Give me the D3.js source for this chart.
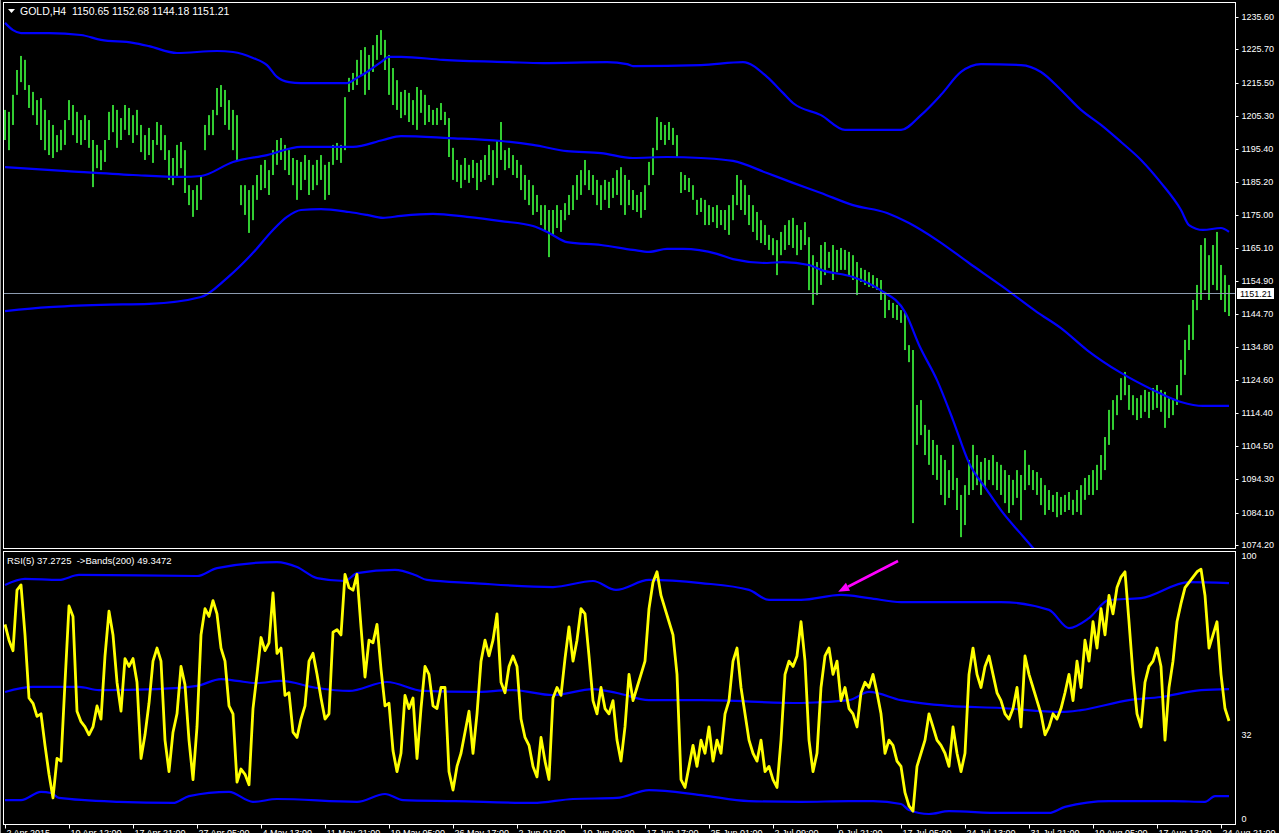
<!DOCTYPE html>
<html><head><meta charset="utf-8">
<script src="https://cdn.jsdelivr.net/npm/d3@7"></script>
<style>html,body{margin:0;padding:0;background:#000;overflow:hidden}</style>
</head><body>
<svg id="c" width="1279" height="833"></svg>
<script>
// ---------------- DATA ----------------
const symbolHeader = "GOLD,H4  1150.65 1152.68 1144.18 1151.21";
const rsiHeader = "RSI(5) 37.2725  ->Bands(200) 49.3472";
const lastPrice = 1151.21;
const priceTicks = [1235.60,1225.70,1215.50,1205.30,1195.40,1185.20,1175.00,1165.10,1154.90,1144.70,1134.80,1124.60,1114.40,1104.50,1094.30,1084.10,1074.20];
const rsiTicks = [100, 32, 0];
const timeLabels = ["2 Apr 2015","10 Apr 12:00","17 Apr 21:00","27 Apr 05:00","4 May 13:00","11 May 21:00","19 May 05:00","26 May 17:00","2 Jun 01:00","10 Jun 09:00","17 Jun 17:00","25 Jun 01:00","2 Jul 09:00","9 Jul 21:00","17 Jul 05:00","24 Jul 13:00","31 Jul 21:00","10 Aug 05:00","17 Aug 13:00","24 Aug 21:00"];
const timeLabelBar = [0,16,32,48,64,80,96,112,128,144,160,176,192,208,224,240,256,272,288,304];

const barHigh = [
1207.2,1206.6,1211.8,1219.4,1223.7,1222.5,1214.8,1212.7,1210.2,1210.8,
1207.2,1204.1,1202.6,1199.5,1201.1,1204.1,1210.2,1208.7,1206.6,1204.1,
1205.6,1204.1,1198.0,1196.5,1194.9,1198.0,1206.6,1208.7,1207.2,1204.7,
1208.7,1207.8,1205.6,1207.2,1202.6,1199.5,1201.7,1198.0,1203.5,1202.6,
1199.5,1194.9,1192.5,1196.5,1197.4,1194.9,1184.2,1182.7,1184.2,1187.3,
1202.6,1205.6,1207.2,1213.9,1214.8,1213.3,1210.2,1207.2,1205.6,1184.2,
1184.2,1182.7,1184.2,1187.3,1190.4,1191.9,1188.8,1194.9,1198.0,1198.6,
1196.5,1194.9,1192.5,1191.9,1191.3,1193.4,1191.9,1190.4,1191.9,1193.4,
1190.4,1191.3,1196.5,1197.1,1196.5,1211.1,1217.0,1218.5,1222.5,1225.5,
1226.4,1224.0,1227.0,1230.1,1231.6,1228.6,1224.0,1220.0,1216.3,1212.7,
1213.3,1212.4,1210.2,1214.2,1213.3,1211.8,1208.7,1207.2,1207.8,1209.3,
1206.6,1204.7,1195.6,1191.9,1190.4,1192.5,1190.4,1191.9,1191.0,1191.9,
1193.4,1196.5,1194.9,1198.0,1203.5,1194.9,1195.6,1193.4,1191.9,1190.4,
1187.3,1185.8,1184.2,1181.2,1178.1,1178.1,1176.6,1176.6,1178.1,1176.6,
1178.7,1181.2,1184.2,1187.3,1188.8,1191.9,1188.8,1187.3,1185.8,1184.2,
1185.8,1185.2,1186.4,1188.8,1189.7,1187.3,1185.8,1182.7,1181.2,1182.1,
1184.2,1191.3,1195.6,1205.0,1203.5,1202.6,1203.5,1201.7,1199.5,1188.2,
1187.3,1186.4,1184.2,1179.7,1180.3,1179.7,1178.1,1177.5,1178.1,1176.6,
1176.6,1178.1,1181.2,1187.3,1185.8,1184.2,1181.2,1178.1,1176.0,1173.5,
1172.0,1169.0,1168.0,1167.4,1169.9,1172.0,1173.5,1174.2,1172.0,1170.5,
1172.9,1168.3,1162.8,1160.7,1165.9,1166.8,1163.8,1165.9,1164.4,1165.0,
1164.4,1163.8,1162.8,1160.7,1158.9,1158.3,1157.6,1156.7,1155.8,1155.2,
1151.5,1149.1,1148.2,1147.6,1146.0,1145.4,1135.3,1133.8,1117.0,1118.5,
1110.9,1109.4,1106.3,1104.8,1101.7,1100.2,1097.1,1104.8,1094.7,1089.5,
1092.5,1100.2,1104.8,1101.7,1099.6,1100.8,1100.2,1101.7,1099.6,1098.7,
1097.1,1095.6,1094.1,1097.1,1095.6,1103.2,1098.7,1097.1,1096.5,1094.7,
1092.5,1091.0,1089.5,1090.4,1088.9,1089.5,1090.4,1088.0,1091.0,1092.5,
1094.7,1095.6,1097.1,1098.7,1101.7,1107.2,1115.5,1118.5,1120.0,1125.2,
1127.1,1123.1,1120.0,1119.1,1120.0,1121.6,1121.0,1122.2,1123.1,1121.6,
1121.0,1119.1,1118.5,1123.1,1130.8,1136.9,1141.5,1149.1,1153.7,1165.9,
1168.0,1162.8,1165.9,1169.9,1159.8,1156.7,1153.7];

const barLow = [
1198.0,1194.9,1202.6,1211.8,1215.7,1213.3,1207.8,1205.6,1202.6,1198.0,
1194.9,1193.4,1192.5,1194.3,1194.9,1196.5,1204.1,1199.5,1197.1,1196.5,
1198.0,1195.6,1183.6,1189.4,1188.8,1191.3,1198.0,1200.4,1195.6,1198.0,
1201.1,1199.5,1197.1,1199.5,1194.3,1191.9,1193.4,1191.0,1196.5,1194.9,
1191.9,1185.8,1184.2,1186.7,1189.4,1181.8,1178.1,1174.5,1176.6,1179.7,
1194.9,1199.5,1199.5,1205.6,1208.1,1202.6,1201.1,1194.9,1191.9,1178.1,
1175.1,1169.6,1173.5,1179.7,1182.7,1183.3,1181.2,1187.3,1190.4,1191.9,
1188.8,1187.3,1184.2,1179.7,1182.7,1185.8,1181.2,1182.7,1184.2,1185.8,
1179.7,1181.2,1190.4,1191.9,1191.0,1194.9,1212.7,1213.3,1214.8,1217.9,
1211.8,1213.3,1218.8,1222.5,1224.0,1219.4,1211.8,1208.7,1207.2,1204.7,
1205.6,1203.5,1202.6,1201.1,1206.3,1202.6,1203.5,1202.6,1202.6,1204.1,
1202.6,1192.8,1185.8,1185.2,1183.3,1185.8,1184.9,1186.4,1182.7,1185.2,
1185.8,1187.3,1184.2,1186.4,1191.9,1188.8,1189.4,1187.3,1186.4,1182.7,
1179.7,1178.1,1175.1,1176.0,1172.0,1170.5,1162.2,1169.0,1171.1,1169.9,
1173.5,1175.1,1176.6,1179.7,1181.2,1184.2,1182.7,1181.2,1178.1,1176.6,
1179.7,1177.2,1180.3,1181.2,1178.1,1175.1,1178.1,1176.6,1176.0,1174.2,
1176.6,1184.2,1187.3,1194.9,1198.0,1196.5,1198.0,1196.5,1192.8,1181.8,
1182.7,1182.1,1179.7,1175.1,1176.0,1172.0,1172.0,1172.9,1171.1,1172.0,
1170.5,1169.0,1173.5,1178.1,1176.6,1175.1,1172.0,1169.9,1167.4,1166.5,
1165.9,1164.4,1162.8,1156.7,1162.8,1164.4,1165.9,1165.0,1162.8,1164.4,
1165.9,1152.1,1147.6,1150.6,1153.7,1156.7,1158.9,1155.2,1157.6,1158.3,
1158.3,1156.7,1155.2,1150.6,1154.6,1153.7,1153.1,1152.8,1152.2,1149.1,
1143.6,1146.0,1143.6,1143.0,1142.1,1133.8,1130.1,1080.9,1104.8,1107.8,
1101.7,1098.7,1095.6,1094.1,1089.5,1086.4,1088.6,1091.0,1084.9,1076.6,
1080.3,1089.5,1091.0,1092.5,1089.5,1091.6,1094.1,1092.5,1091.0,1089.5,
1087.0,1084.0,1086.4,1088.6,1081.8,1091.0,1092.5,1091.0,1089.5,1086.4,
1083.4,1084.9,1084.3,1082.7,1083.4,1084.3,1084.9,1083.4,1084.3,1083.4,
1088.0,1089.5,1089.5,1091.0,1094.1,1097.1,1104.8,1109.4,1113.9,1118.5,
1120.0,1115.5,1113.9,1112.4,1113.0,1114.9,1113.0,1115.5,1116.1,1114.9,
1110.0,1113.0,1113.9,1117.0,1120.0,1126.2,1133.8,1136.9,1146.0,1149.1,
1152.1,1149.1,1153.7,1152.1,1149.1,1145.4,1144.2];

const rsiValues = [
74,68,64,87,89,70,46,44,39,40,
28,17,8,23,22,52,81,77,41,37,
35,32,35,43,38,62,79,70,52,41,
61,58,61,52,23,32,44,60,65,60,
30,18,33,40,58,51,30,15,35,70,
80,77,83,78,65,60,43,40,14,19,
17,13,42,55,69,64,67,86,63,65,
47,48,33,31,38,43,60,63,55,46,
38,40,71,72,70,93,88,87,93,73,
54,68,67,74,57,43,44,26,18,25,
47,42,46,23,42,58,55,43,42,50,
50,18,11,20,25,33,41,25,40,60,
68,62,68,78,52,48,58,62,58,38,
31,28,20,16,31,22,15,46,50,47,
61,73,60,68,80,78,62,45,40,50,
42,40,45,30,22,35,55,45,50,55,
60,80,90,94,85,80,75,70,55,15,
12,20,28,20,30,25,35,22,30,25,
40,45,60,65,50,40,30,25,22,30,
18,20,15,12,30,55,60,58,62,75,
60,30,18,25,50,62,65,55,60,45,
50,42,40,35,48,52,50,55,48,40,
25,30,28,22,20,10,5,3,20,25,
30,40,35,30,28,25,20,35,25,18,
25,55,65,55,50,58,62,55,48,45,
40,38,42,50,35,62,55,50,45,40,
32,35,40,38,42,48,55,45,60,50,
68,60,75,65,80,70,85,78,88,92,
94,75,55,40,35,52,58,60,65,58,
30,50,60,75,82,88,90,92,94,95,
85,65,70,75,55,42,37.27];

// Bollinger bands on price: [bar index, price]
const bbUpper = [[0,1233.8],[2,1231.6],[4,1230.7],[11,1230.7],[19,1230.1],[24,1228.6],[32,1227.7],[36,1226.7],[43,1224.6],[53,1225.2],[57,1224.9],[62,1223.1],[65.5,1220.9],[68,1217.3],[71,1215.7],[74,1215.4],[85.5,1215.4],[88,1217.0],[90.5,1218.8],[94,1221.8],[96,1223.4],[99,1223.4],[109.5,1222.5],[126,1221.8],[134.5,1221.5],[150.5,1221.8],[155.5,1221.2],[157,1220.6],[174,1220.9],[184.5,1221.8],[190.5,1217.3],[194.5,1212.4],[197,1209.3],[204,1205.6],[210,1201.1],[224,1201.1],[229,1205.6],[234,1211.8],[239,1218.8],[244,1221.2],[254,1220.9],[259,1218.8],[264,1213.3],[269,1207.2],[274,1202.6],[279,1197.4],[284,1191.9],[289,1184.9],[294,1176.6],[296,1172.0],[299.5,1170.5],[304,1171.1],[306,1169.9]];
const bbMiddle = [[0,1189.7],[15.5,1188.5],[32,1187.3],[44,1186.7],[49,1187.0],[57,1191.3],[65.5,1193.4],[74,1195.9],[87,1195.9],[94.5,1198.0],[99,1199.2],[111,1198.6],[124,1197.7],[132,1196.5],[140.5,1194.6],[149,1194.0],[157,1192.5],[165.5,1192.8],[174,1192.5],[182,1191.6],[190.5,1187.9],[197,1184.9],[204,1181.8],[212,1178.1],[220.5,1175.7],[226,1172.6],[233,1167.4],[241,1160.4],[249.5,1153.1],[258,1145.4],[264,1140.5],[270.5,1133.8],[279,1126.8],[287,1121.6],[294,1117.9],[299.5,1116.7],[306,1116.7]];
const bbLower = [[0,1145.7],[11,1146.9],[24,1147.6],[36,1147.9],[49,1150.0],[55.5,1155.8],[62,1163.5],[67,1170.5],[70.5,1174.5],[74,1176.6],[79,1176.9],[86,1176.0],[90.5,1175.1],[94.5,1174.2],[99,1174.8],[107,1175.4],[115.5,1174.5],[124,1173.2],[132,1171.7],[136,1169.6],[140.5,1166.8],[149,1165.9],[157,1164.4],[161,1163.8],[165.5,1164.7],[169.5,1164.7],[178,1163.2],[182,1161.6],[190.5,1160.4],[194.5,1160.7],[201,1159.8],[204,1158.3],[212,1156.1],[218.75,1152.2],[225,1145.4],[228.75,1134.7],[233,1124.6],[237,1112.4],[241,1099.3],[245.5,1091.0],[249.5,1084.0],[253.75,1077.9],[257,1073.3],[261,1068.0],[269,1061.0],[280,1058.5],[294,1060.0],[306,1063.5]];

// Bands on RSI: [bar index, value]
const rsiUpper = [[0,89.0],[5,91.3],[13.5,90.9],[18.5,92.8],[48,92.4],[53,95.4],[68,97.7],[73,95.8],[78,91.6],[85,90.5],[88,93.5],[97.5,94.7],[102.5,92.8],[105.5,90.9],[117,89.7],[137,88.2],[147,90.5],[152.75,87.1],[161,90.9],[174,89.7],[186,87.1],[191,83.3],[199,83.3],[209,85.2],[216,84.0],[224,82.5],[249,82.5],[261,79.5],[266,72.6],[271,76.4],[276,83.3],[284,84.0],[296,90.1],[306,89.7]];
const rsiMiddle = [[0,48.3],[7,50.2],[18.5,50.2],[23.5,49.0],[38,49.4],[48,50.6],[54,53.2],[58,52.5],[63,51.7],[69,52.5],[78,49.8],[86,48.7],[95.5,52.1],[104.5,48.7],[117,48.3],[127,49.0],[137,47.1],[147,49.4],[153,47.9],[161,45.2],[174,45.2],[199,44.1],[211,45.2],[216,48.3],[224,45.2],[236,43.0],[249,42.2],[264,40.7],[269,41.4],[281,45.2],[289,46.4],[299,49.0],[306,49.35]];
const rsiLower = [[0,7.2],[4,7.2],[9,10.3],[11.5,9.9],[13.5,8.0],[28.5,6.5],[42,6.1],[46,8.7],[56,10.3],[62,6.5],[68,7.6],[88,6.5],[95,9.5],[99.5,7.2],[112.5,6.8],[132,6.1],[142,7.6],[153,8.0],[161,11.0],[174,9.1],[186,6.8],[199,6.5],[211,6.8],[217,6.8],[224,5.7],[226,3.4],[231,1.9],[236,3.0],[249,2.3],[261,2.3],[265,4.6],[276,6.8],[292,6.8],[300,6.5],[302.5,8.7],[306,8.7]];

// annotation arrow in data units (bar index, RSI value): tail, head
const arrowPts = [[223.25,98.1],[208.3,86.4]];

// ---------------- DRAW ----------------
const svg = d3.select('#c');
const FONT = "'Liberation Sans', Arial, sans-serif";
const frameL = 3.5, frameR = 1235.5, mainT = 2.5, mainB = 548.5, rsiT = 551.5, rsiB = 824.5;
const n = Math.min(barHigh.length, barLow.length);
const x = d3.scaleLinear().domain([0, 306]).range([5, 1229]);
const y = d3.scaleLinear().domain([1074.2, 1235.6]).range([545, 17]);
const yr = d3.scaleLinear().domain([0, 100]).range([819, 556]);

svg.append('rect').attr('width',1279).attr('height',833).attr('fill','#000');

const defs = svg.append('defs');
defs.append('clipPath').attr('id','clipMain').append('rect')
  .attr('x',frameL+0.5).attr('y',mainT+0.5).attr('width',frameR-frameL-1).attr('height',mainB-mainT-1);
defs.append('clipPath').attr('id','clipRsi').append('rect')
  .attr('x',frameL+0.5).attr('y',rsiT+0.5).attr('width',frameR-frameL-1).attr('height',rsiB-rsiT-1);

// left window edge
svg.append('line').attr('x1',0.5).attr('x2',0.5).attr('y1',0).attr('y2',833).attr('stroke','#9a9a9a');

const gMain = svg.append('g').attr('clip-path','url(#clipMain)');
const gRsi = svg.append('g').attr('clip-path','url(#clipRsi)');

// price bars
gMain.append('g').selectAll('rect').data(d3.range(n)).join('rect')
  .attr('x', i => Math.round(x(i)) - 1)
  .attr('width', 2)
  .attr('y', i => y(barHigh[i]))
  .attr('height', i => Math.max(1, y(barLow[i]) - y(barHigh[i])))
  .attr('fill', '#32cd32');

// bands
const bandLine = d3.line().x(d => x(d[0])).y(d => y(d[1])).curve(d3.curveMonotoneX);
[bbUpper, bbMiddle, bbLower].forEach(b => {
  gMain.append('path').attr('d', bandLine(b)).attr('fill','none')
    .attr('stroke','#0000ff').attr('stroke-width',2.2);
});

// last price line
gMain.append('line').attr('x1',frameL).attr('x2',frameR)
  .attr('y1', Math.round(y(lastPrice))+0.5).attr('y2', Math.round(y(lastPrice))+0.5)
  .attr('stroke','#8c9bb0').attr('stroke-width',1);

// RSI
const rsiLine = d3.line().x((d,i) => x(i)).y(d => yr(d));
const rBand = d3.line().x(d => x(d[0])).y(d => yr(d[1])).curve(d3.curveMonotoneX);
[rsiUpper, rsiMiddle, rsiLower].forEach(b => {
  gRsi.append('path').attr('d', rBand(b)).attr('fill','none')
    .attr('stroke','#0000ff').attr('stroke-width',2.2);
});
gRsi.append('path').attr('d', rsiLine(rsiValues)).attr('fill','none')
  .attr('stroke','#ffff00').attr('stroke-width',2.8).attr('stroke-linejoin','round');

// arrow annotation
{
  const [t, h] = arrowPts.map(p => [x(p[0]), yr(p[1])]);
  const ang = Math.atan2(h[1]-t[1], h[0]-t[0]);
  const L = 11, Wd = 4.5;
  const bx = h[0] - L*Math.cos(ang), by = h[1] - L*Math.sin(ang);
  gRsi.append('line').attr('x1',t[0]).attr('y1',t[1]).attr('x2',bx).attr('y2',by)
    .attr('stroke','#ff00ff').attr('stroke-width',2.6);
  gRsi.append('polygon').attr('points', [
    [h[0],h[1]],
    [bx + Wd*Math.sin(ang), by - Wd*Math.cos(ang)],
    [bx - Wd*Math.sin(ang), by + Wd*Math.cos(ang)]
  ].map(p=>p.join(',')).join(' ')).attr('fill','#ff00ff');
}

// frames
[[mainT, mainB],[rsiT, rsiB]].forEach(([t,b]) => {
  svg.append('rect').attr('x',frameL).attr('y',t).attr('width',frameR-frameL).attr('height',b-t)
    .attr('fill','none').attr('stroke','#ffffff').attr('stroke-width',1);
});

// axes
function styleAxis(g){
  g.select('.domain').remove();
  g.selectAll('line').attr('stroke','#fff');
  g.selectAll('text').attr('fill','#fff').attr('font-family',FONT).attr('font-size','9px');
}
const pa = svg.append('g').attr('transform',`translate(${frameR},0)`)
  .call(d3.axisRight(y).tickValues(priceTicks).tickFormat(d3.format('.2f')).tickSize(3).tickPadding(3));
styleAxis(pa);
pa.selectAll('.tick').attr('transform', d => `translate(0,${Math.round(y(d))+0.5})`);

const ra = svg.append('g').attr('transform',`translate(${frameR},0)`)
  .call(d3.axisRight(yr).tickValues(rsiTicks).tickFormat(d3.format('d')).tickSize(0).tickPadding(6));
styleAxis(ra);

const ta = svg.append('g').attr('transform',`translate(0,${rsiB})`)
  .call(d3.axisBottom(x).tickValues(timeLabelBar).tickFormat((d,i) => timeLabels[i]).tickSize(4).tickPadding(1));
styleAxis(ta);
ta.selectAll('.tick').attr('transform', d => `translate(${Math.round(x(d))+0.5},0)`);
ta.selectAll('text').attr('text-anchor','start').attr('x',1);

// last price label
{
  const py = Math.round(y(lastPrice));
  svg.append('rect').attr('x',1237).attr('y',py-5).attr('width',37).attr('height',11).attr('fill','#fff');
  svg.append('text').attr('x',1240).attr('y',py+4).text(d3.format('.2f')(lastPrice))
    .attr('fill','#000').attr('font-family',FONT).attr('font-size','9px');
}

// headers
svg.append('path').attr('d','M8,9 L15,9 L11.5,13 Z').attr('fill','#fff');
svg.append('text').attr('x',20).attr('y',14.5).text(symbolHeader)
  .style('white-space','pre').attr('fill','#fff').attr('font-family',FONT).attr('font-size','10.5px');
svg.append('text').attr('x',7).attr('y',564).text(rsiHeader)
  .style('white-space','pre').attr('fill','#fff').attr('font-family',FONT).attr('font-size','9.5px');
</script>
</body></html>
